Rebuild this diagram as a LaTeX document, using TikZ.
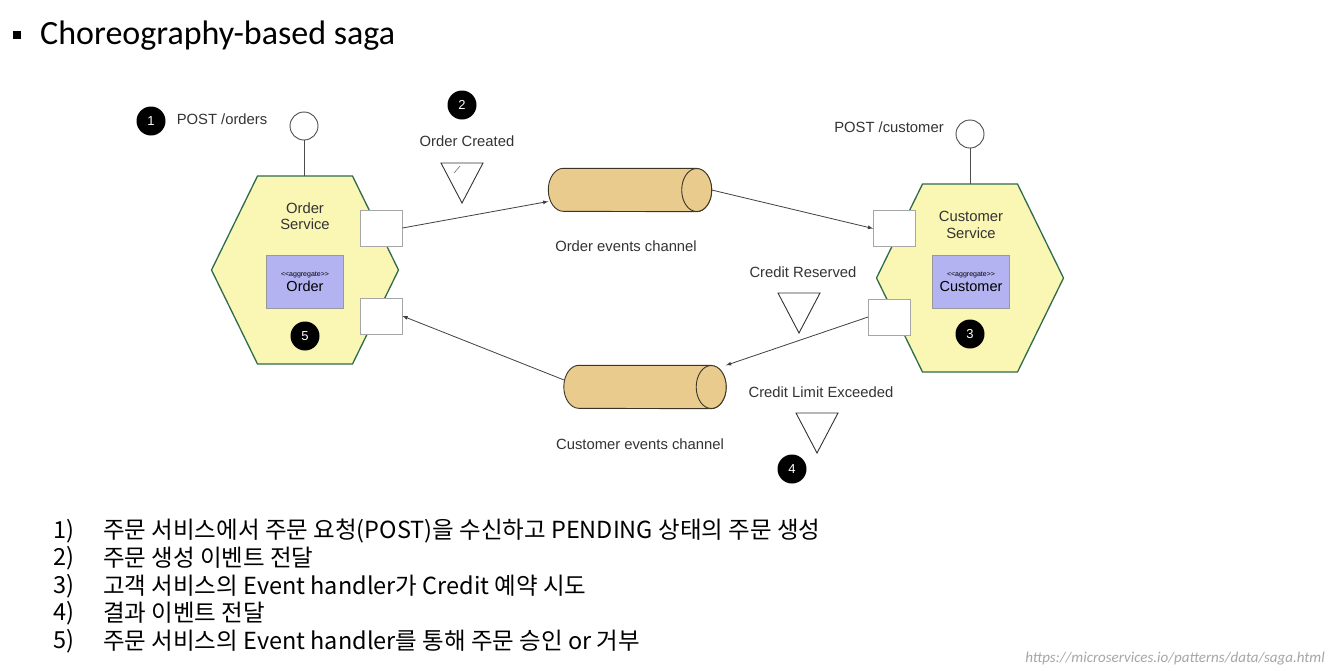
\documentclass[tikz,border=0pt]{standalone}
\usepackage{fontspec}
\setmainfont{Liberation Sans}
\newfontfamily\titlefont{Carlito}
\newfontfamily\krfont{Noto Sans CJK KR}
\usepackage{xcolor}
\usetikzlibrary{arrows}
\usetikzlibrary{calc, math, positioning}

\definecolor{hexfill}{HTML}{FAF6B4}
\definecolor{hexline}{HTML}{2F6B4C}
\definecolor{aggfill}{HTML}{B3B3F2}
\definecolor{chanfill}{HTML}{E8CB8D}
\definecolor{chanline}{HTML}{3B3526}
\definecolor{txt}{HTML}{333333}

\begin{document}
\begin{tikzpicture}[x=1pt, y=-1pt,
  lbl/.style={text=txt, font=\fontsize{14.8}{16.5}\selectfont, inner sep=0pt},
  svc/.style={fill=hexfill, draw=hexline, line width=1.3pt},
  agg/.style={fill=aggfill, draw=gray!80, minimum width=77pt, minimum height=53pt, inner sep=0pt, align=center},
  port/.style={fill=white, draw=gray!70, line width=0.8pt, minimum width=42pt, minimum height=36pt, inner sep=0pt},
  api/.style={circle, fill=white, draw=black!70, line width=0.9pt, minimum size=28pt, inner sep=0pt},
  badge/.style={circle, fill=black, text=white, minimum size=29pt, inner sep=0pt, font=\fontsize{13}{13}\selectfont},
  chanbox/.style={minimum width=163pt, minimum height=43pt, inner sep=0pt},
  chan/.style={draw=chanline, fill=chanfill, line width=0.9pt},
  flow/.style={draw=black!75, line width=0.8pt, -latex},
  evt/.style={draw=black!80, line width=0.9pt, fill=white},
  item/.style={anchor=west, inner sep=0pt, font=\krfont\fontsize{23.5}{26}\selectfont},
]
\tikzmath{
\hexw=93.5;
\hexa=47.5;
\hexh=94;
\chr=15;
\chy=21.5;
}
\useasboundingbox[fill=white] (0,0) rectangle (1331,670);

% title
\fill (13,31) rectangle (21,39);
\node[anchor=west, inner sep=0pt] (title) at (40,36) {\titlefont\fontsize{34}{38}\selectfont Choreography-based saga};

% services
\coordinate (osvc) at (305,270);
\coordinate (csvc) at (970,278);
\foreach \c in {osvc,csvc}{
  \draw[svc] ($(\c)+(-\hexa,-\hexh)$) -- ($(\c)+(\hexa,-\hexh)$) -- ($(\c)+(\hexw,0)$)
    -- ($(\c)+(\hexa,\hexh)$) -- ($(\c)+(-\hexa,\hexh)$) -- ($(\c)+(-\hexw,0)$) -- cycle;
}

\node[lbl, align=center] (oname) at (305,216) {Order\\Service};
\node[lbl, align=center] (cname) at (971,225) {Customer\\Service};
\node[agg] (oagg) at (305,282) {{\fontsize{7}{8}\selectfont <{}<aggregate>{}>}\\[3pt]{\fontsize{14.5}{16}\selectfont Order}};
\node[agg] (cagg) at (971,282) {{\fontsize{7}{8}\selectfont <{}<aggregate>{}>}\\[3pt]{\fontsize{14.5}{16}\selectfont Customer}};

% ports
\node[port] (oout) at (381,228) {};
\node[port] (oin) at (381,316) {};
\node[port] (cin) at (894.5,228.5) {};
\node[port] (cout) at (889.5,317) {};

% apis
\node[api] (oapi) at (304,126) {};
\node[api] (capi) at (970,134) {};
\draw[black!70, line width=0.9pt] (oapi) -- ($(osvc)+(-1,-\hexh)$);
\draw[black!70, line width=0.9pt] (capi) -- ($(csvc)+(0,-\hexh)$);
\node[lbl] (opost) at (222,119) {POST /orders};
\node[lbl] (cpost) at (889,127) {POST /customer};

% channels
\node[chanbox] (och) at (630,190) {};
\node[chanbox, minimum width=162pt] (cch) at (645,387) {};
\foreach \c in {och,cch}{
  \draw[chan] ($(\c.north east)+(-\chr,0)$) -- ($(\c.north west)+(\chr,0)$)
    arc[start angle=-90, end angle=-270, x radius=\chr, y radius=\chy]
    -- ($(\c.south east)+(-\chr,0)$)
    arc[start angle=90, end angle=-90, x radius=\chr, y radius=\chy] -- cycle;
  \draw[chan] ($(\c.east)+(-\chr,0)$) ellipse[x radius=\chr, y radius=\chy];
}
\node[lbl] (ochl) at (626,246) {Order events channel};
\node[lbl] (cchl) at (640,444) {Customer events channel};

\draw[flow] (oout.east) -- (och.188);
\draw[flow] (och.east) -- (cin.west);
\draw[flow] (cout.west) -- (cch.15);
\draw[flow] (cch.175) -- (oin.east);

% events
\foreach \x/\y in {462/163, 799/293, 817/413}
  \draw[evt] (\x-21,\y) -- (\x+21,\y) -- (\x,\y+40) -- cycle;
\draw[gray, line width=0.7pt] (454,173) -- (460,166);
\node[lbl] (ecre) at (467,141) {Order Created};
\node[lbl] (eres) at (803,272) {Credit Reserved};
\node[lbl] (elim) at (821,392) {Credit Limit Exceeded};

% steps
\node[badge] (b1) at (151,121) {1};
\node[badge] (b2) at (462,105) {2};
\node[badge] (b3) at (970,334) {3};
\node[badge] (b4) at (792,469) {4};
\node[badge] (b5) at (305,336) {5};

% notes
\foreach \n/\y/\t in {1/531/주문 서비스에서 주문 요청(POST)을 수신하고 PENDING 상태의 주문 생성,
                      2/558/주문 생성 이벤트 전달,
                      3/586/고객 서비스의 Event handler가 Credit 예약 시도,
                      4/613/결과 이벤트 전달,
                      5/641/주문 서비스의 Event handler를 통해 주문 승인 or 거부}{
  \node[item] (n\n) at (53,\y) {\n)};
  \node[item] (t\n) at (103,\y) {\t};
}

\node[anchor=east, inner sep=0pt, text=gray!70] (src) at (1325,659) {\titlefont\itshape\fontsize{15}{17}\selectfont https://microservices.io/patterns/data/saga.html};
\end{tikzpicture}
\end{document}
